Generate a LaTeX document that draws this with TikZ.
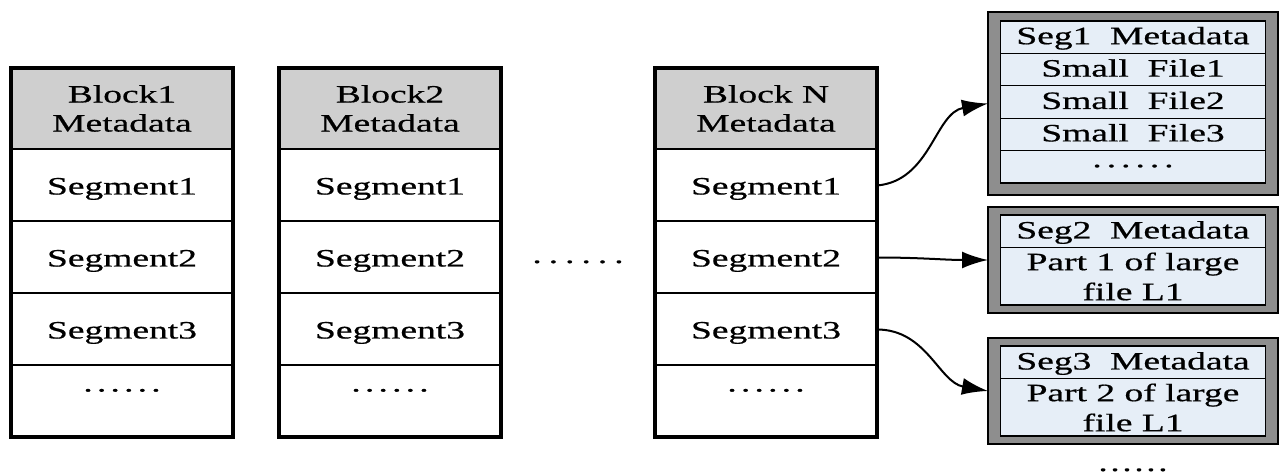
\documentclass[tikz,border=0pt]{standalone}
\usepackage{fontspec}
\setmainfont{Liberation Serif}[FakeStretch=1.5,FakeBold=0.6]
\usetikzlibrary{arrows.meta}
\definecolor{headgray}{HTML}{CFCFCF}
\definecolor{boxgray}{HTML}{8E8E8E}
\definecolor{cellblue}{HTML}{E6EEF7}
\newcommand{\sixdots}[1]{.\kern#1.\kern#1.\kern#1.\kern#1.\kern#1.}
\begin{document}
\begin{tikzpicture}[x=0.5pt,y=-0.5pt,
  every node/.style={font=\fontsize{12.5}{14.5}\selectfont, inner sep=0pt, outer sep=0pt},
  cell/.style={draw=black, line width=1pt, fill=white, minimum width=111pt, minimum height=36pt, text height=9pt, text depth=0pt},
  headcell/.style={draw=black, line width=1pt, fill=headgray, minimum width=111pt, minimum height=40.5pt, align=center},
  blockframe/.style={draw=black, line width=2pt},
  outerbox/.style={draw=black, line width=0.8pt, fill=boxgray, minimum width=145pt},
  innerframe/.style={draw=black, line width=0.9pt},
  rowcell/.style={draw=black, line width=0.5pt, fill=cellblue, minimum width=132.5pt, minimum height=16.2pt, text height=8pt, text depth=1pt},
  tallcell/.style={draw=black, line width=0.5pt, fill=cellblue, minimum width=132.5pt, minimum height=28.5pt, align=center, font=\fontsize{12.5}{15}\selectfont},
  link/.style={-{Latex[length=13pt,width=8.5pt]}, line width=1pt}
]
\useasboundingbox (0,0) rectangle (1280,475);

\foreach \n/\x/\t in {1/122/Block1,2/390/Block2,N/766/Block N}{
  \node[headcell] (b\n-h) at (\x,108.5) {\t\\Metadata};
  \node[cell] (b\n-s1) at (\x,185.5) {Segment1};
  \node[cell] (b\n-s2) at (\x,257.5) {Segment2};
  \node[cell] (b\n-s3) at (\x,329.5) {Segment3};
  \node[cell] (b\n-d) at (\x,401.5) {\raisebox{9.5pt}{\sixdots{2.1pt}}};
  \draw[blockframe] (b\n-h.north west) rectangle (b\n-d.south east);
}

\node[anchor=base] (mid) at (578,263) {\sixdots{3.5pt}};

% right box 1
\node[outerbox, minimum height=91.5pt] (r1) at (1133,103.5) {};
\node[rowcell] (r1a) at (1133,37.2) {Seg1~~Metadata};
\node[rowcell] (r1b) at (1133,69.6) {Small~~File1};
\node[rowcell] (r1c) at (1133,102) {Small~~File2};
\node[rowcell] (r1d) at (1133,134.4) {Small~~File3};
\node[rowcell] (r1e) at (1133,166.8) {\raisebox{3.3pt}{\sixdots{2.5pt}}};
\draw[innerframe] (r1a.north west) rectangle (r1e.south east);

% right box 2
\node[outerbox, minimum height=53pt] (r2) at (1133,260) {};
\node[rowcell, minimum height=16.5pt] (r2a) at (1133,231.5) {Seg2~~Metadata};
\node[tallcell] (r2b) at (1133,276.5) {Part 1 of large\\file L1};
\draw[innerframe] (r2a.north west) rectangle (r2b.south east);

% right box 3
\node[outerbox, minimum height=53pt] (r3) at (1133,391) {};
\node[rowcell, minimum height=16.5pt] (r3a) at (1133,362.5) {Seg3~~Metadata};
\node[tallcell] (r3b) at (1133,407.5) {Part 2 of large\\file L1};
\draw[innerframe] (r3a.north west) rectangle (r3b.south east);

\node[anchor=base] (more) at (1133,471) {\sixdots{1.3pt}};

\draw[link] (bN-s1.east) to[out=5,in=190] (r1.west);
\draw[link] (bN-s2.east) to[out=0,in=180] (r2.west);
\draw[link] (bN-s3.east) to[out=0,in=170] (r3.west);
\end{tikzpicture}
\end{document}
